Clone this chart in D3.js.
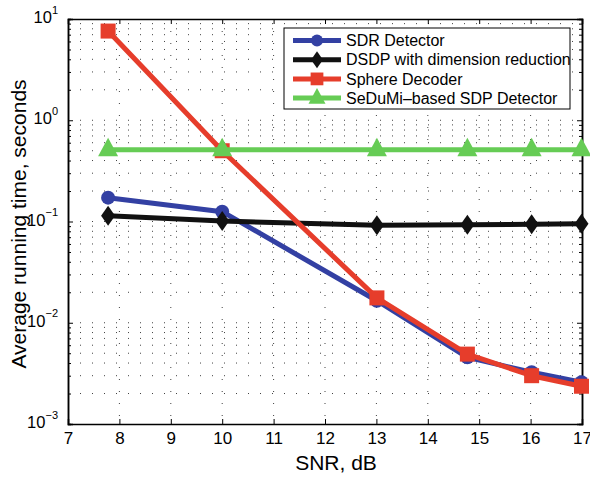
<!DOCTYPE html>
<meta charset="utf-8">
<script src="https://d3js.org/d3.v7.min.js"></script>
<style>
  body { margin: 0; background: #fff; }
  text { font-family: "Liberation Sans", Arial, sans-serif; fill: #000; }
</style>
<div id="chart"></div>
<script>

// data
const snr    = [7.78, 10, 13.01, 14.77, 16.02, 16.99];
const sdr    = [0.172, 0.125, 0.0165, 0.00456, 0.00324, 0.00259];
const dsdp   = [0.114, 0.101, 0.092, 0.093, 0.094, 0.095];
const sphere = [7.6, 0.5, 0.0176, 0.0049, 0.0030, 0.00236];
const sedumi = [0.51, 0.51, 0.51, 0.51, 0.51, 0.51];

const seriesNames = ["SDR Detector", "DSDP with dimension reduction", "Sphere Decoder", "SeDuMi\u2013based SDP Detector"];
const xTicks = [7, 8, 9, 10, 11, 12, 13, 14, 15, 16, 17];
const yExps  = [-3, -2, -1, 0, 1];

const series = [
  {name: seriesNames[0], values: sdr,    color: "#3340a3", marker: "circle"},
  {name: seriesNames[1], values: dsdp,   color: "#111111", marker: "diamond"},
  {name: seriesNames[2], values: sphere, color: "#e63d2b", marker: "square"},
  {name: seriesNames[3], values: sedumi, color: "#66cc55", marker: "triangle"}
];

const margin = {top: 19, right: 8, bottom: 55, left: 68},
    width = 590 - margin.left - margin.right,
    height = 479 - margin.top - margin.bottom;

const svg = d3.select("#chart")
  .append("svg")
    .attr("width", 590)
    .attr("height", 479)
  .append("g")
    .attr("transform", `translate(${margin.left},${margin.top})`);

const x = d3.scaleLinear().domain([7, 17]).range([0, width]);
const y = d3.scaleLog().domain([1e-3, 1e1]).range([height, 0]);

const yMajor = yExps.map(e => Math.pow(10, e));
const yMinor = [];
yExps.slice(0, -1).forEach(e => {
  for (let k = 2; k <= 9; k++) yMinor.push(k * Math.pow(10, e));
});

// dotted grid
const grid = svg.append("g")
  .attr("stroke", "#000")
  .attr("stroke-width", 1)
  .attr("stroke-dasharray", "1,11")
  .attr("stroke-opacity", 0.75);
grid.selectAll(".gx")
  .data(xTicks.slice(1, -1))
  .join("line")
    .attr("x1", d => x(d)).attr("x2", d => x(d))
    .attr("y1", 0).attr("y2", height);
grid.selectAll(".gy")
  .data(yMajor.slice(1, -1).concat(yMinor))
  .join("line")
    .attr("x1", 0).attr("x2", width)
    .attr("y1", d => y(d)).attr("y2", d => y(d));

// axes, MATLAB style with inward ticks
const xAxis = svg.append("g")
  .attr("transform", `translate(0,${height})`)
  .call(d3.axisBottom(x).tickValues(xTicks).tickSize(-5).tickPadding(8).tickFormat(d3.format("d")));
xAxis.selectAll("text").style("font-size", "17px");

svg.append("g")
  .call(d3.axisTop(x).tickValues(xTicks).tickSize(-5).tickFormat(""));

const yAxis = svg.append("g")
  .call(d3.axisLeft(y).tickValues(yMajor).tickSize(-5).tickPadding(8).tickFormat(""));
yAxis.selectAll(".tick").append("text")
  .attr("x", -10)
  .attr("dy", "0.35em")
  .attr("text-anchor", "end")
  .each(function(d) {
    const t = d3.select(this);
    t.append("tspan").style("font-size", "16.5px").text("10");
    t.append("tspan").style("font-size", "11px").attr("dy", "-0.85em")
      .text(String(Math.round(Math.log10(d))).replace("-", "\u2212"));
  });
svg.append("g")
  .call(d3.axisLeft(y).tickValues(yMinor).tickSize(-3).tickFormat(""));

svg.append("g")
  .attr("transform", `translate(${width},0)`)
  .call(d3.axisRight(y).tickValues(yMajor).tickSize(-5).tickFormat(""));
svg.append("g")
  .attr("transform", `translate(${width},0)`)
  .call(d3.axisRight(y).tickValues(yMinor).tickSize(-3).tickFormat(""));

svg.selectAll(".domain").attr("stroke", "#000").attr("stroke-width", 1.5);
svg.selectAll(".tick line").attr("stroke", "#000").attr("stroke-width", 1);

// markers
function drawMarker(g, type, color, s) {
  if (type === "circle") {
    g.append("circle").attr("r", 7 * s).attr("fill", color);
  } else if (type === "square") {
    g.append("rect").attr("x", -7.5 * s).attr("y", -7.5 * s)
      .attr("width", 15 * s).attr("height", 15 * s).attr("fill", color);
  } else if (type === "diamond") {
    g.append("path").attr("fill", color)
      .attr("d", `M0,${-10 * s}L${7 * s},0L0,${10 * s}L${-7 * s},0Z`);
  } else if (type === "triangle") {
    g.append("path").attr("fill", color)
      .attr("d", `M0,${-12 * s}L${10 * s},${6.5 * s}L${-10 * s},${6.5 * s}Z`);
  }
}

const line = d3.line()
  .x((d, i) => x(snr[i]))
  .y(d => y(d));

series.forEach(s => {
  svg.append("path")
    .datum(s.values)
    .attr("fill", "none")
    .attr("stroke", s.color)
    .attr("stroke-width", 5)
    .attr("stroke-linejoin", "round")
    .attr("d", line);
  s.values.forEach((v, i) => {
    const g = svg.append("g").attr("transform", `translate(${x(snr[i])},${y(v)})`);
    drawMarker(g, s.marker, s.color, 1);
  });
});

// legend
const lx = 284 - margin.left, ly = 28 - margin.top;
const legend = svg.append("g").attr("transform", `translate(${lx},${ly})`);
legend.append("rect")
  .attr("width", 286).attr("height", 81)
  .attr("fill", "#fff").attr("stroke", "#000").attr("stroke-width", 1);
series.forEach((s, i) => {
  const row = legend.append("g").attr("transform", `translate(0,${12.5 + i * 19.2})`);
  row.append("line")
    .attr("x1", 9).attr("x2", 57)
    .attr("stroke", s.color).attr("stroke-width", 5);
  drawMarker(row.append("g").attr("transform", "translate(33,0)"), s.marker, s.color, 0.85);
  row.append("text")
    .attr("x", 62).attr("dy", "0.35em")
    .style("font-size", "16px")
    .text(s.name);
});

// axis titles
svg.append("text")
  .attr("x", 336 - margin.left).attr("y", 470 - margin.top)
  .attr("text-anchor", "middle")
  .style("font-size", "21px")
  .text("SNR, dB");

svg.append("text")
  .attr("transform", `translate(${19 - margin.left},${224 - margin.top}) rotate(-90)`)
  .attr("text-anchor", "middle")
  .attr("dy", "0.35em")
  .style("font-size", "21px")
  .text("Average running time, seconds");

</script>
